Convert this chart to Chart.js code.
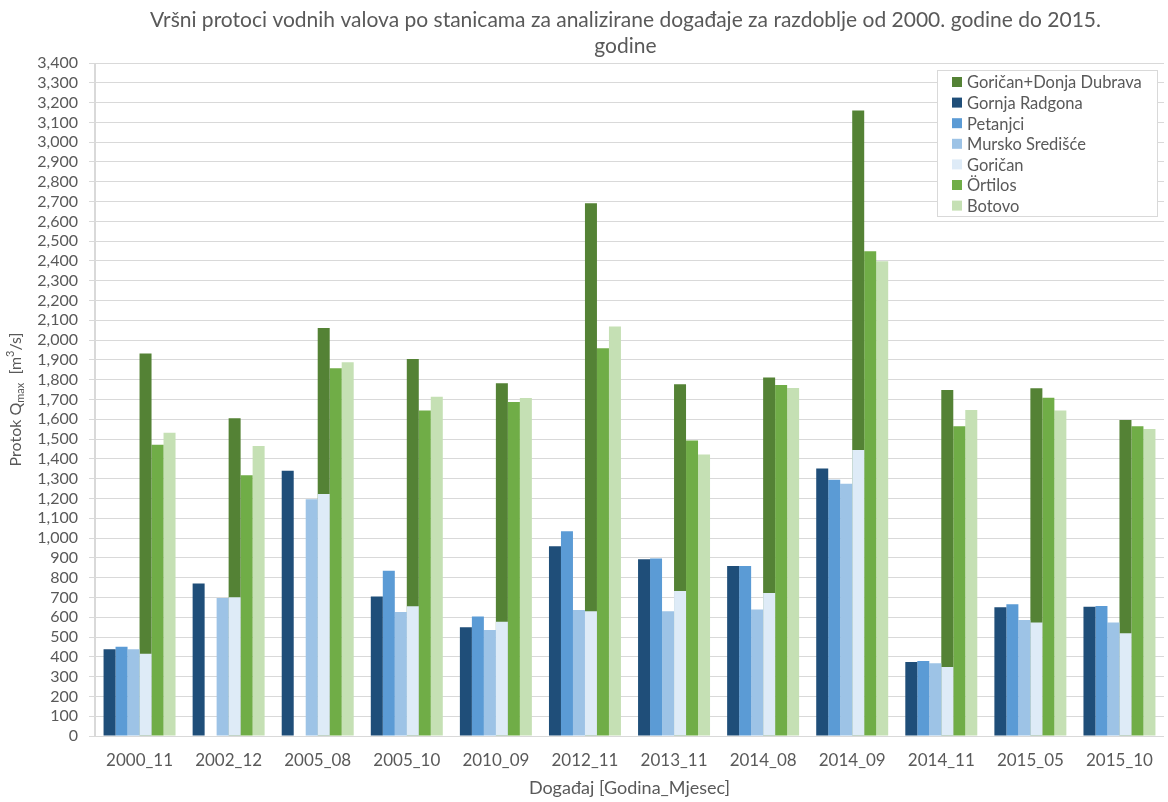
<!DOCTYPE html>
<html lang="hr">
<head>
<meta charset="utf-8">
<title>Vršni protoci vodnih valova</title>
<script src="https://cdn.jsdelivr.net/npm/chart.js@4.4.1/dist/chart.umd.min.js"></script>
<style>
  html, body { margin: 0; padding: 0; background: #ffffff; }
  #wrap { width: 1168px; height: 802px; }
</style>
</head>
<body>
<div id="wrap"><canvas id="chart" width="1168" height="802"></canvas></div>
<script>
// kategorije (događaji)
const categories = ['2000_11', '2002_12', '2005_08', '2005_10', '2010_09', '2012_11',
                    '2013_11', '2014_08', '2014_09', '2014_11', '2015_05', '2015_10'];

// vršni protoci Qmax [m3/s] po stanicama
const goricanDonjaDubrava = [1933, 1605, 2061, 1905, 1782, 2692, 1777, 1811, 3160, 1748, 1757, 1597];
const gornjaRadgona       = [438, 771, 1340, 705, 550, 958, 893, 859, 1351, 374, 650, 653];
const petanjci            = [451, null, null, 835, 604, 1034, 897, 859, 1294, 379, 665, 657];
const murskoSrediste      = [438, 697, 1196, 627, 535, 637, 630, 639, 1275, 367, 586, 573];
const gorican             = [416, 701, 1223, 655, 577, 630, 732, 723, 1445, 349, 573, 519];
const ortilos             = [1472, 1317, 1858, 1645, 1688, 1959, 1493, 1773, 2449, 1565, 1709, 1565];
const botovo              = [1532, 1465, 1888, 1714, 1707, 2069, 1422, 1758, 2399, 1647, 1644, 1551];

// os Y
const yMin = 0;
const yMax = 3400;
const yStep = 100;

const titleLines = ['Vršni protoci vodnih valova po stanicama za analizirane događaje za razdoblje od 2000. godine do 2015.', 'godine'];
const xTitle = 'Događaj [Godina_Mjesec]';

const FONT = 'Lato, "Open Sans", sans-serif';
const TEXT = '#595959';
const GRID = '#d9d9d9';

// redoslijed u legendi
const legendOrder = ['Goričan+Donja Dubrava', 'Gornja Radgona', 'Petanjci', 'Mursko Središće', 'Goričan', 'Örtilos', 'Botovo'];

// Goričan i Goričan+Donja Dubrava dijele isti stupac (Goričan se crta preko)
const datasets = [
    { label: 'Gornja Radgona', data: gornjaRadgona, backgroundColor: '#1f4e79', stack: 's1' },
    { label: 'Petanjci', data: petanjci, backgroundColor: '#5b9bd5', stack: 's2' },
    { label: 'Mursko Središće', data: murskoSrediste, backgroundColor: '#9dc3e6', stack: 's3' },
    { label: 'Goričan', data: gorican, backgroundColor: '#deebf7', stack: 's4' },
    { label: 'Goričan+Donja Dubrava', data: goricanDonjaDubrava, backgroundColor: '#548235', stack: 's4' },
    { label: 'Örtilos', data: ortilos, backgroundColor: '#70ad47', stack: 's5' },
    { label: 'Botovo', data: botovo, backgroundColor: '#c5e0b4', stack: 's6' }
];

// naslov grafikona, centriran iznad područja crtanja
const titlePlugin = {
    id: 'excelTitle',
    afterDraw(chart) {
        const { ctx, chartArea } = chart;
        const cx = (chartArea.left + chartArea.right) / 2 - 4;
        ctx.save();
        ctx.fillStyle = TEXT;
        ctx.font = '21px ' + FONT;
        ctx.textAlign = 'center';
        ctx.textBaseline = 'middle';
        ctx.fillText(titleLines[0], cx, 20);
        ctx.fillText(titleLines[1], cx, 46);
        ctx.restore();
    }
};

// naslov osi Y s indeksom i eksponentom: Protok Q_max [m^3/s]
const yTitlePlugin = {
    id: 'yTitle',
    afterDraw(chart) {
        const { ctx, chartArea } = chart;
        const parts = [
            { t: 'Protok Q', size: 16, dy: 0 },
            { t: 'max', size: 11, dy: 4 },
            { t: '  [m', size: 16, dy: 0 },
            { t: '3', size: 11, dy: -6 },
            { t: '/s]', size: 16, dy: 0 }
        ];
        ctx.save();
        let total = 0;
        parts.forEach(p => {
            ctx.font = p.size + 'px ' + FONT;
            p.w = ctx.measureText(p.t).width;
            total += p.w;
        });
        ctx.translate(16, (chartArea.top + chartArea.bottom) / 2);
        ctx.rotate(-Math.PI / 2);
        ctx.fillStyle = TEXT;
        ctx.textBaseline = 'middle';
        ctx.textAlign = 'left';
        let x = -total / 2;
        parts.forEach(p => {
            ctx.font = p.size + 'px ' + FONT;
            ctx.fillText(p.t, x, p.dy);
            x += p.w;
        });
        ctx.restore();
    }
};

// legenda u okviru, gore desno unutar područja crtanja
const boxLegendPlugin = {
    id: 'boxLegend',
    afterDraw(chart) {
        const { ctx, chartArea } = chart;
        const w = 220, h = 146;
        const left = chartArea.right - 7 - w;
        const top = chartArea.top + 7;
        ctx.save();
        ctx.fillStyle = '#ffffff';
        ctx.fillRect(left, top, w, h);
        ctx.strokeStyle = GRID;
        ctx.lineWidth = 1;
        ctx.strokeRect(left + 0.5, top + 0.5, w, h);
        ctx.font = '16.5px ' + FONT;
        ctx.textBaseline = 'middle';
        ctx.textAlign = 'left';
        legendOrder.forEach((name, i) => {
            const ds = chart.data.datasets.find(d => d.label === name);
            const y = top + 12 + i * 20.6;
            ctx.fillStyle = ds.backgroundColor;
            ctx.fillRect(left + 15, y - 5, 10, 10);
            ctx.fillStyle = TEXT;
            ctx.fillText(name, left + 30, y + 1);
        });
        ctx.restore();
    }
};

new Chart(document.getElementById('chart'), {
    type: 'bar',
    data: { labels: categories, datasets: datasets },
    options: {
        responsive: false,
        animation: false,
        events: [],
        layout: { padding: { top: 63, right: 4, bottom: 0, left: 0 } },
        datasets: {
            bar: { barPercentage: 1, categoryPercentage: 0.808, borderWidth: 0 }
        },
        plugins: {
            legend: { display: false },
            title: { display: false },
            tooltip: { enabled: false }
        },
        scales: {
            x: {
                stacked: true,
                grid: {
                    drawTicks: false,
                    color: ctx => (ctx.index === 0 || ctx.index === categories.length) ? GRID : 'rgba(0,0,0,0)'
                },
                border: { display: false },
                ticks: { color: TEXT, font: { family: FONT, size: 17 }, padding: 14, maxRotation: 0 },
                title: {
                    display: true,
                    text: xTitle,
                    color: TEXT,
                    font: { family: FONT, size: 18 },
                    padding: { top: 0, bottom: 3 }
                },
                afterFit: s => { s.height = 66; }
            },
            y: {
                stacked: false,
                min: yMin,
                max: yMax,
                grid: { color: GRID, tickLength: 6 },
                border: { display: true, color: GRID },
                ticks: {
                    stepSize: yStep,
                    color: TEXT,
                    font: { family: FONT, size: 16 },
                    padding: 11,
                    autoSkip: false,
                    callback: v => v.toLocaleString('en-US')
                },
                afterFit: s => { s.width = 95; }
            }
        }
    },
    plugins: [titlePlugin, yTitlePlugin, boxLegendPlugin]
});
</script>
</body>
</html>
